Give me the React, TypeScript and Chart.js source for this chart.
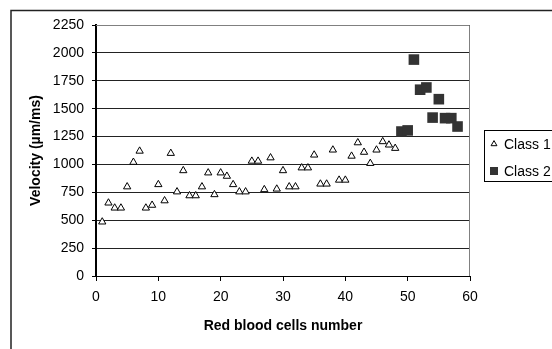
import React, { useEffect, useRef } from "react";
import { Chart, registerables } from "chart.js";

Chart.register(...registerables);

const class1Cells = [1, 2, 3, 4, 5, 6, 7, 8, 9, 10, 11, 12, 13, 14, 15, 16, 17, 18, 19, 20, 21, 22, 23, 24, 25, 26, 27, 28, 29, 30, 31, 32, 33, 34, 35, 36, 37, 38, 39, 40, 41, 42, 43, 44, 45, 46, 47, 48];
const class1Velocity = [485, 655, 610, 610, 800, 1020, 1120, 610, 635, 820, 675, 1100, 755, 945, 720, 720, 800, 925, 730, 925, 895, 820, 755, 755, 1030, 1030, 775, 1060, 780, 945, 800, 800, 970, 970, 1085, 825, 825, 1130, 860, 860, 1075, 1195, 1110, 1010, 1130, 1205, 1175, 1145];
const class2Cells = [49, 50, 51, 52, 53, 54, 55, 56, 57, 58];
const class2Velocity = [1295, 1305, 1940, 1670, 1690, 1420, 1585, 1415, 1415, 1340];

const seriesLabels = ["Class 1", "Class 2"];
const xTitle = "Red blood cells number";
const yTitle = "Velocity (µm/ms)";
const FONT = "'Liberation Sans', Arial, sans-serif";

const framePlugin = {
  id: "framePlugin",
  afterDraw(chart: any) {
    const { ctx, chartArea } = chart;
    ctx.save();
    // plot area border (top/right)
    ctx.strokeStyle = "#808080";
    ctx.lineWidth = 1;
    ctx.beginPath();
    ctx.moveTo(chartArea.left, chartArea.top + 0.5);
    ctx.lineTo(chartArea.right - 0.5, chartArea.top + 0.5);
    ctx.lineTo(chartArea.right - 0.5, chartArea.bottom);
    ctx.stroke();
    // outer frame
    ctx.strokeStyle = "#222";
    ctx.lineWidth = 1.5;
    ctx.strokeRect(11, 10.5, chart.width + 10, chart.height + 10);
    // legend box
    const lx = chartArea.right + 14;
    const ly = 130;
    ctx.strokeStyle = "#000";
    ctx.lineWidth = 1;
    ctx.strokeRect(lx + 0.5, ly + 0.5, 120, 51);
    ctx.font = "14px " + FONT;
    ctx.fillStyle = "#000";
    ctx.textBaseline = "middle";
    ctx.textAlign = "left";
    const rows = [ly + 14, ly + 41];
    chart.data.datasets.forEach((ds: any, i: number) => {
      const cy = rows[i];
      const mx = lx + 10;
      if (ds.pointStyle === "triangle") {
        const r = 3.4;
        ctx.beginPath();
        ctx.moveTo(mx, cy - r);
        ctx.lineTo(mx + r * 0.866, cy + r / 2);
        ctx.lineTo(mx - r * 0.866, cy + r / 2);
        ctx.closePath();
        ctx.fillStyle = "#fff";
        ctx.fill();
        ctx.strokeStyle = "#000";
        ctx.stroke();
      } else {
        ctx.fillStyle = ds.backgroundColor;
        ctx.fillRect(mx - 4, cy - 4, 8, 8);
      }
      ctx.fillStyle = "#000";
      ctx.fillText(ds.label, lx + 20, cy + 1);
    });
    ctx.restore();
  },
};

export default function App() {
  const ref = useRef<HTMLCanvasElement>(null);
  useEffect(() => {
    document.body.style.margin = "0";
    const chart = new Chart(ref.current!, {
      type: "scatter",
      data: {
        datasets: [
          {
            label: seriesLabels[0],
            data: class1Cells.map((x, i) => ({ x, y: class1Velocity[i] })),
            pointStyle: "triangle",
            pointRadius: 4.2,
            pointBackgroundColor: "#fff",
            pointBorderColor: "#000",
            pointBorderWidth: 1,
            backgroundColor: "#fff",
            borderColor: "#000",
          },
          {
            label: seriesLabels[1],
            data: class2Cells.map((x, i) => ({ x, y: class2Velocity[i] })),
            pointStyle: "rect",
            pointRadius: 7.5,
            pointBackgroundColor: "#333",
            pointBorderColor: "#333",
            pointBorderWidth: 0,
            backgroundColor: "#333",
            borderColor: "#333",
          },
        ],
      },
      options: {
        responsive: false,
        animation: false,
        layout: { padding: { left: 12, top: 25, right: 82, bottom: 0 } },
        plugins: { legend: { display: false }, tooltip: { enabled: false } },
        scales: {
          x: {
            type: "linear",
            min: 0,
            max: 60,
            afterFit: (s: any) => {
              s.height = 73;
            },
            ticks: {
              stepSize: 10,
              color: "#000",
              padding: 8,
              font: { family: FONT, size: 14 },
              callback: (v: any) => String(v),
            },
            grid: { drawOnChartArea: false, drawTicks: true, tickLength: 5, tickColor: "#000" },
            border: { color: "#000", width: 1 },
            title: {
              display: true,
              text: xTitle,
              color: "#000",
              font: { family: FONT, size: 14, weight: "bold" },
              padding: { top: 4, bottom: 14 },
            },
          },
          y: {
            min: 0,
            max: 2250,
            afterFit: (s: any) => {
              s.width = 84;
            },
            ticks: {
              stepSize: 250,
              color: "#000",
              padding: 8,
              font: { family: FONT, size: 14 },
              callback: (v: any) => String(v),
            },
            grid: { color: "#222", tickLength: 4, tickColor: "#000" },
            border: { color: "#000", width: 2 },
            title: {
              display: true,
              text: yTitle,
              color: "#000",
              font: { family: FONT, size: 14, weight: "bold" },
              padding: { top: 16, bottom: 0 },
            },
          },
        },
      },
      plugins: [framePlugin],
    });
    return () => chart.destroy();
  }, []);
  return (
    <div style={{ position: "absolute", left: 0, top: 0, width: 552, height: 349 }}>
      <canvas ref={ref} width={552} height={349} style={{ display: "block" }} />
    </div>
  );
}
